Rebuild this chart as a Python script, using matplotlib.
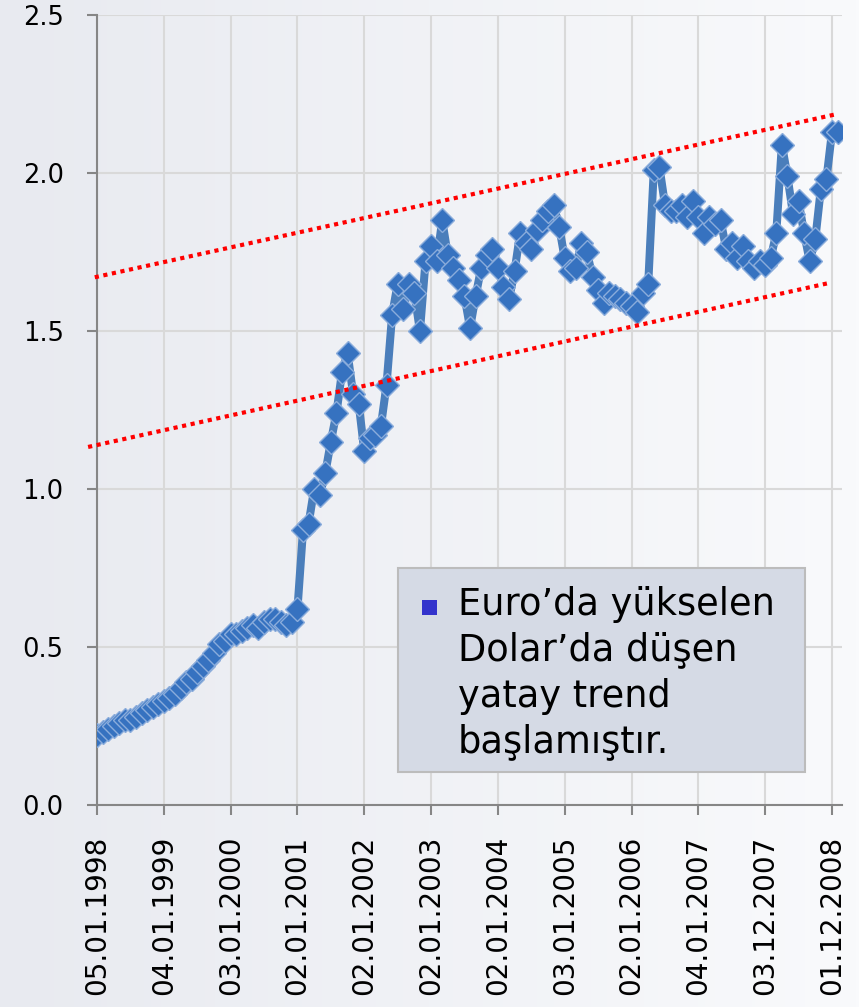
import numpy as np
import matplotlib
matplotlib.use("Agg")
from matplotlib import pyplot as plt
from matplotlib.colors import LinearSegmentedColormap
from matplotlib.patches import Rectangle

rates = [
    0.22, 0.23, 0.24, 0.25, 0.26, 0.27, 0.27, 0.28, 0.29, 0.30, 0.31, 0.32,  # 1998
    0.33, 0.34, 0.35, 0.37, 0.39, 0.40, 0.42, 0.44, 0.46, 0.48, 0.51, 0.52,  # 1999
    0.54, 0.54, 0.55, 0.56, 0.57, 0.56, 0.58, 0.59, 0.59, 0.58, 0.57, 0.58,  # 2000
    0.62, 0.87, 0.89, 1.00, 0.98, 1.05, 1.15, 1.24, 1.37, 1.43, 1.30, 1.27,  # 2001
    1.12, 1.16, 1.17, 1.20, 1.33, 1.55, 1.65, 1.57, 1.65, 1.62, 1.50, 1.72,  # 2002
    1.77, 1.72, 1.85, 1.74, 1.70, 1.66, 1.61, 1.51, 1.61, 1.70, 1.74, 1.76,  # 2003
    1.70, 1.64, 1.60, 1.69, 1.81, 1.78, 1.76, 1.82, 1.85, 1.88, 1.90, 1.83,  # 2004
    1.73, 1.69, 1.70, 1.78, 1.75, 1.67, 1.63, 1.59, 1.62, 1.61, 1.60, 1.59,  # 2005
    1.58, 1.56, 1.62, 1.65, 2.01, 2.02, 1.90, 1.88, 1.88, 1.90, 1.86, 1.91,  # 2006
    1.86, 1.81, 1.86, 1.84, 1.85, 1.76, 1.78, 1.73, 1.77, 1.72, 1.70, 1.72,  # 2007
    1.71, 1.73, 1.81, 2.09, 1.99, 1.87, 1.91, 1.81, 1.72, 1.79, 1.95, 1.98,  # 2008
    2.13, 2.13,
]
tick_labels = ["05.01.1998", "04.01.1999", "03.01.2000", "02.01.2001", "02.01.2002",
               "02.01.2003", "02.01.2004", "03.01.2005", "02.01.2006", "04.01.2007",
               "03.12.2007", "01.12.2008"]
y_ticks = [0.0, 0.5, 1.0, 1.5, 2.0, 2.5]

# channel lines: (x start, x end), (y start, y end)
upper_x, upper_y = [-0.4, 132.5], [1.67, 2.185]
lower_x, lower_y = [-1.6, 131.5], [1.133, 1.652]

note_lines = ["Euro’da yükselen", "Dolar’da düşen", "yatay trend", "başlamıştır."]

fig = plt.figure(figsize=(8.59, 10.07), dpi=100)

# soft gradient background
bg = fig.add_axes([0, 0, 1, 1], zorder=-10)
grad = np.linspace(0, 1, 256).reshape(1, -1)
cmap = LinearSegmentedColormap.from_list("bg", ["#e8eaf0", "#f9fafc"])
bg.imshow(grad, aspect="auto", cmap=cmap, extent=[0, 1, 0, 1])
bg.axis("off")

ax = fig.add_axes([97 / 859, 1 - 805 / 1007, 745 / 859, 790 / 1007])
ax.set_facecolor("none")

x = np.arange(len(rates))
ax.plot(x, rates, color="#4a7ebb", lw=5.8, marker="D", ms=12,
        mfc="#3672c0", mec="#8aacdb", mew=1.0, zorder=3, solid_joinstyle="round")

for xs, ys in [(upper_x, upper_y), (lower_x, lower_y)]:
    ax.plot(xs, ys, color="#ff0000", lw=3, linestyle=(0, (1, 1.1)),
            dash_capstyle="butt", zorder=4, clip_on=False)

tick_pos = np.arange(len(tick_labels)) * 12
ax.set_xticks(tick_pos)
ax.set_xticklabels(tick_labels, rotation=90, fontsize=20, va="top", ha="center")
ax.set_yticks(y_ticks)
ax.set_yticklabels([f"{v:.1f}" for v in y_ticks], fontsize=18.5)
ax.set_xlim(0, 133.8)
ax.set_ylim(0, 2.5)

ax.grid(True, color="#d9d9d9", lw=1.5, zorder=0)
ax.set_axisbelow(True)
for s in ["top", "right"]:
    ax.spines[s].set_visible(False)
for s in ["left", "bottom"]:
    ax.spines[s].set_color("#868686")
    ax.spines[s].set_linewidth(1.5)
ax.tick_params(axis="both", color="#868686", width=1.5, length=7, direction="out")
ax.tick_params(axis="y", pad=17)
ax.tick_params(axis="x", pad=15)

# note box
ax.add_patch(Rectangle((0.404, 0.042), 0.546, 0.258, transform=ax.transAxes,
                       facecolor="#d5dae5", edgecolor="#bcbcbc", lw=1.5, zorder=5))
ax.add_patch(Rectangle((0.436, 0.241), 0.020, 0.019, transform=ax.transAxes,
                       facecolor="#3333cc", edgecolor="none", zorder=6))
baselines = [0.2405, 0.1835, 0.1241, 0.0671]
for line, yb in zip(note_lines, baselines):
    ax.text(0.4846, yb, line, transform=ax.transAxes, fontsize=26.5,
            va="baseline", ha="left", zorder=6)

fig.savefig("out.png", dpi=100)
